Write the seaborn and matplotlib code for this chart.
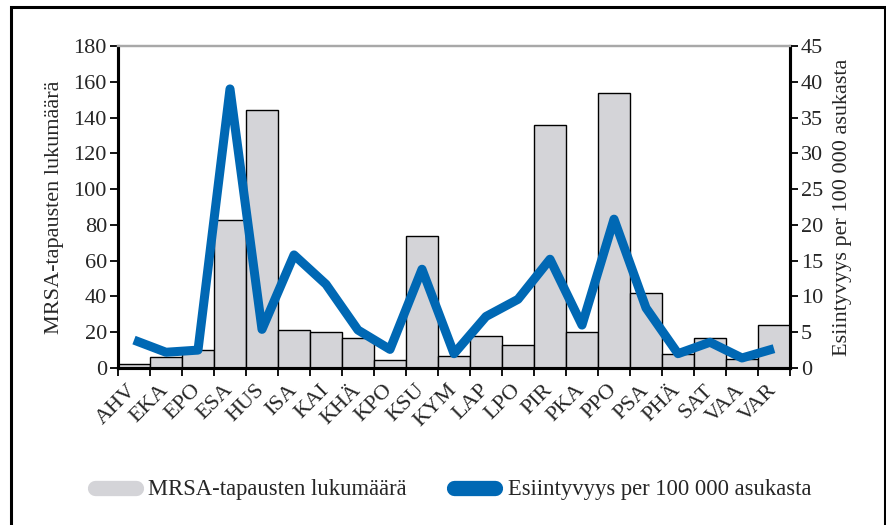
import numpy as np
import pandas as pd
import matplotlib
matplotlib.use("Agg")
import matplotlib.pyplot as plt
from matplotlib.lines import Line2D
from matplotlib.patches import Rectangle
import seaborn as sns

regions = ["AHV", "EKA", "EPO", "ESA", "HUS", "ISA", "KAI", "KHÄ", "KPO", "KSU",
           "KYM", "LAP", "LPO", "PIR", "PKA", "PPO", "PSA", "PHÄ", "SAT", "VAA", "VAR"]
cases = [2, 6, 10, 83, 144, 21, 20, 17, 4.5, 74,
         6.5, 18, 13, 136, 20, 154, 42, 8, 17, 5, 24]
incidence = [3.9, 2.2, 2.5, 39.0, 5.4, 15.8, 11.7, 5.3, 2.6, 13.8,
             2.0, 7.2, 9.6, 15.2, 6.0, 20.8, 8.4, 2.0, 3.6, 1.4, 2.7]

left_label = "MRSA-tapausten lukumäärä"
right_label = "Esiintyvyys per 100 000 asukasta"

df = pd.DataFrame({"region": regions, "cases": cases, "incidence": incidence})
df["pos"] = pd.Categorical(df["region"], categories=regions).codes

sns.set_theme(style="white")
plt.rcParams["font.family"] = ["Liberation Serif", "DejaVu Serif"]

bar_color = "#d4d4d8"
line_color = "#0068b4"
fs = 16

fig = plt.figure(figsize=(8.87, 5.25), dpi=100)
ax = fig.add_axes([118 / 887, 157 / 525, (790 - 118) / 887, (368 - 46) / 525])

sns.barplot(data=df, x="region", y="cases", color=bar_color, edgecolor="black",
            linewidth=1.0, width=1.0, saturation=1, ax=ax, zorder=1)
ax.set_xlim(-0.5, len(regions) - 0.5)
ax.set_ylim(0, 180)
ax.set_yticks(np.arange(0, 181, 20))
ax.set_xlabel("")
ax.set_ylabel(left_label, fontsize=fs, labelpad=7)

ax2 = ax.twinx()
sns.lineplot(data=df, x="pos", y="incidence", color=line_color, linewidth=6.5,
             ax=ax2, solid_joinstyle="round", solid_capstyle="butt", zorder=3)
ax2.set_ylim(0, 45)
ax2.set_yticks(np.arange(0, 46, 5))
ax2.set_xlim(-0.5, len(regions) - 0.5)
ax2.set_xlabel("")
ax2.set_ylabel(right_label, fontsize=fs, labelpad=7)

# x ticks: marks at bar edges, labels centered
ax.set_xticks(np.arange(len(regions)))
ax.set_xticklabels(regions, rotation=45, ha="right", va="center",
                   rotation_mode="anchor", fontsize=fs)
ax.set_xticks(np.arange(-0.5, len(regions), 1), minor=True)
ax.tick_params(axis="x", which="major", length=0, pad=14)
ax.tick_params(axis="x", which="minor", length=6, width=1.3, direction="out",
               color="black", bottom=True)
ax.tick_params(axis="y", length=6, width=1.3, direction="out", color="black",
               labelsize=fs, pad=2, left=True)
ax2.tick_params(axis="y", length=6, width=1.3, direction="out", color="black",
                labelsize=fs, pad=2, right=True)

for a in (ax, ax2):
    a.spines["left"].set_color("black")
    a.spines["left"].set_linewidth(2.2)
    a.spines["right"].set_color("black")
    a.spines["right"].set_linewidth(2.2)
    a.spines["bottom"].set_color("black")
    a.spines["bottom"].set_linewidth(2.2)
    a.spines["top"].set_color("#a8a8a8")
    a.spines["top"].set_linewidth(1.6)
    a.grid(False)

handles = [Line2D([0], [0], color=bar_color, linewidth=11, solid_capstyle="round"),
           Line2D([0], [0], color=line_color, linewidth=11, solid_capstyle="round")]
fig.legend(handles, [left_label, right_label], loc="center",
           bbox_to_anchor=(453 / 887, 1 - 490 / 525), ncol=2, frameon=False,
           fontsize=16.3, handlelength=1.8, handletextpad=0.55, columnspacing=2.1)

# outer frame
fig.patches.append(Rectangle((11 / 887, -0.02), (885 - 11) / 887, 1.02 - 7 / 525,
                             transform=fig.transFigure, fill=False,
                             edgecolor="black", linewidth=2.2))

fig.savefig("out.png", dpi=100)
